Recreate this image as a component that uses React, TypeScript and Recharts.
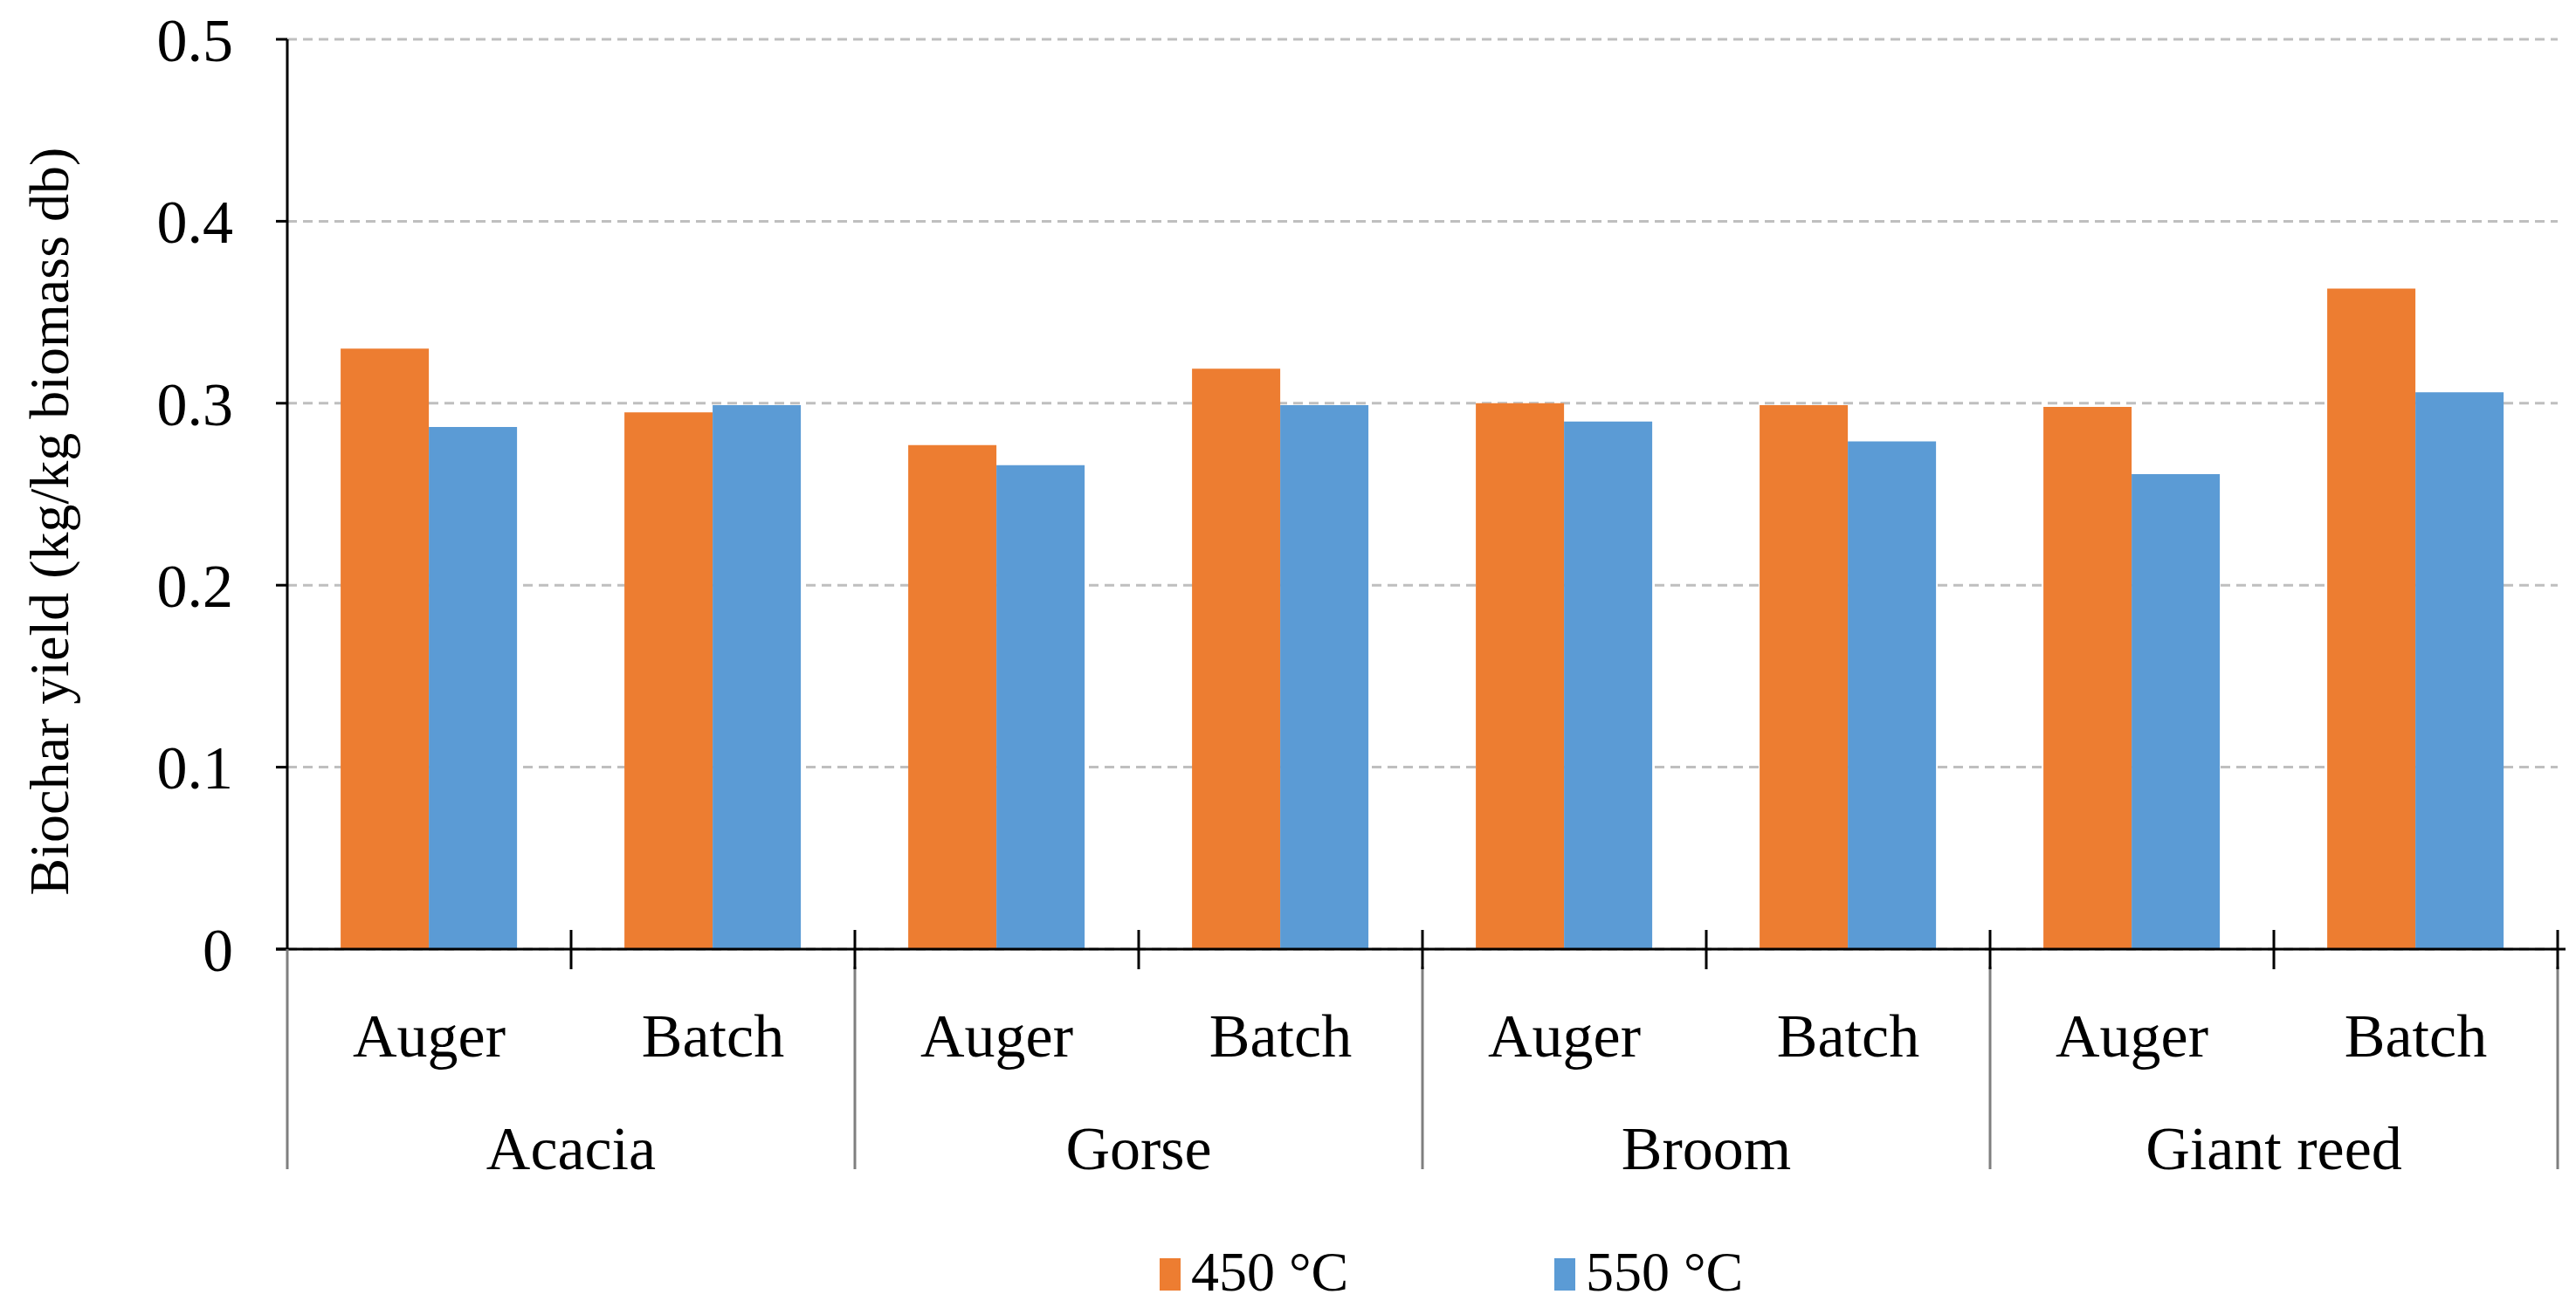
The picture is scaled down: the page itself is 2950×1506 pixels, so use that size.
import React from "react";
import { BarChart, Bar, XAxis, YAxis, CartesianGrid, Label } from "recharts";

// biochar yield, kg/kg biomass db
const groups = ["Acacia", "Gorse", "Broom", "Giant reed"];
const reactors = ["Auger", "Batch"];
const yield450 = [0.33, 0.295, 0.277, 0.319, 0.3, 0.299, 0.298, 0.363];
const yield550 = [0.287, 0.299, 0.266, 0.299, 0.29, 0.279, 0.261, 0.306];
const yTicks = [0, 0.1, 0.2, 0.3, 0.4, 0.5];
const seriesKeys = ["t450", "t550"];
const seriesNames = ["450 °C", "550 °C"];
const seriesColors = ["#ED7D31", "#5B9BD5"];

const data = groups.flatMap((g, gi) =>
  reactors.map((r, ri) => {
    const i = gi * reactors.length + ri;
    return { key: `${g}-${r}`, group: g, reactor: r, t450: yield450[i], t550: yield550[i] };
  })
);

const FONT = "'Liberation Serif', 'Times New Roman', serif";
const W = 2950;
const H = 1506;

function CategoryTick(props: any) {
  const { x, y, payload, index } = props;
  const half = payload?.offset ? payload.offset : 162.5;
  const row = data[index];
  const per = reactors.length;
  const groupStart = index % per === 0;
  const groupEnd = (index + 1) % per === 0;
  const rx = x + half;
  return (
    <g>
      <text x={x} y={y + 123} textAnchor="middle" fontFamily={FONT} fontSize={70} fill="#000">
        {row.reactor}
      </text>
      {groupStart && (
        <text x={x + half} y={y + 252} textAnchor="middle" fontFamily={FONT} fontSize={70} fill="#000">
          {row.group}
        </text>
      )}
      {index === 0 && (
        <>
          <line x1={x - half - 13} y1={y} x2={x - half} y2={y} stroke="#000" strokeWidth={3} />
          <line x1={x - half} y1={y} x2={x - half} y2={y + 252} stroke="#7f7f7f" strokeWidth={3} />
        </>
      )}
      {groupEnd ? (
        <>
          <line x1={rx} y1={y + 20} x2={rx} y2={y + 252} stroke="#7f7f7f" strokeWidth={3} />
          <line x1={rx} y1={y - 22} x2={rx} y2={y + 23} stroke="#000" strokeWidth={3} />
        </>
      ) : (
        <line x1={rx} y1={y - 22} x2={rx} y2={y + 23} stroke="#000" strokeWidth={3} />
      )}
      {index === data.length - 1 && (
        <line x1={rx} y1={y} x2={rx + 9} y2={y} stroke="#000" strokeWidth={3} />
      )}
    </g>
  );
}

export default function App() {
  return (
    <div style={{ position: "absolute", left: 0, top: 0, width: W, height: H, background: "#fff" }}>
      <BarChart
        width={W}
        height={H}
        data={data}
        margin={{ top: 45, right: 21, bottom: 0, left: 0 }}
        barCategoryGap="18.8%"
        barGap={0}
      >
        <CartesianGrid
          horizontal
          vertical={false}
          stroke="#BFBFBF"
          strokeWidth={3}
          strokeDasharray="11 7"
        />
        <XAxis
          dataKey="key"
          height={419}
          interval={0}
          tickSize={0}
          tickMargin={0}
          tickLine={false}
          axisLine={{ stroke: "#000", strokeWidth: 3 }}
          tick={<CategoryTick />}
        />
        <YAxis
          width={329}
          domain={[0, 0.5]}
          ticks={yTicks}
          interval={0}
          tickSize={13}
          tickMargin={49}
          tickLine={{ stroke: "#000", strokeWidth: 3 }}
          axisLine={{ stroke: "#000", strokeWidth: 3 }}
          tick={{ fill: "#000", fontSize: 70, fontFamily: FONT }}
        >
          <Label
            content={() => (
              <text
                x={56}
                y={597}
                transform="rotate(-90 56 597)"
                textAnchor="middle"
                dominantBaseline="central"
                fontFamily={FONT}
                fontSize={64}
                fill="#000"
              >
                Biochar yield (kg/kg biomass db)
              </text>
            )}
          />
        </YAxis>
        {seriesKeys.map((k, i) => (
          <Bar key={k} dataKey={k} name={seriesNames[i]} fill={seriesColors[i]} isAnimationActive={false} />
        ))}
      </BarChart>
      <svg
        width={W}
        height={H}
        style={{ position: "absolute", left: 0, top: 0, pointerEvents: "none" }}
      >
        {seriesNames.map((name, i) => {
          const lx = [1328, 1780][i];
          return (
            <g key={name}>
              <rect x={lx} y={1441} width={24} height={37} fill={seriesColors[i]} />
              <text x={lx + 36} y={1478} fontFamily={FONT} fontSize={64} fill="#000">
                {name}
              </text>
            </g>
          );
        })}
      </svg>
    </div>
  );
}
